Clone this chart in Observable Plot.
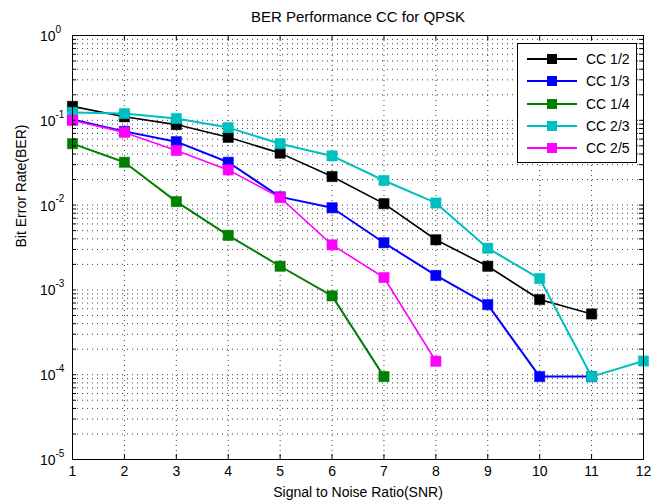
<!DOCTYPE html>
<html>
<head>
<meta charset="utf-8">
<script src="https://cdn.jsdelivr.net/npm/d3@7"></script>
<script src="https://cdn.jsdelivr.net/npm/@observablehq/plot@0.6"></script>
<style>
  html, body { margin: 0; padding: 0; background: #fff; }
  #wrap { position: relative; width: 661px; height: 502px; font-family: "Liberation Sans", Arial, sans-serif; }
  #legend { position: absolute; left: 517px; top: 43px; width: 118px; height: 118px; border: 1px solid #000; background: #fff; }
  .item { position: absolute; left: 0; height: 20px; display: flex; align-items: center; }
  .item span { font-size: 14px; margin-left: 4px; color: #000; }
</style>
</head>
<body>
<div id="wrap"></div>
<script>
const snr = [1, 2, 3, 4, 5, 6, 7, 8, 9, 10, 11, 12];
const seriesNames = ["CC 1/2", "CC 1/3", "CC 1/4", "CC 2/3", "CC 2/5"];
const seriesColors = ["#000000", "#0000ff", "#007f00", "#00bfbf", "#ff00ff"];
const cc12 = [0.146, 0.11, 0.089, 0.063, 0.041, 0.0217, 0.0104, 0.0039, 0.0019, 0.00077, 0.00052];
const cc13 = [0.102, 0.074, 0.056, 0.032, 0.0125, 0.0093, 0.0036, 0.00148, 0.00067, 0.000095, 0.000095];
const cc14 = [0.053, 0.032, 0.011, 0.0044, 0.0019, 0.00085, 0.000095];
const cc23 = [0.124, 0.12, 0.105, 0.082, 0.053, 0.038, 0.0195, 0.0106, 0.0031, 0.00136, 0.000095, 0.000145];
const cc25 = [0.1, 0.072, 0.044, 0.026, 0.0123, 0.0034, 0.0014, 0.000144];
const yDecades = [1, 1e-1, 1e-2, 1e-3, 1e-4, 1e-5];
const titleText = "BER Performance CC for QPSK";
const xLabel = "Signal to Noise Ratio(SNR)";
const yLabel = "Bit Error Rate(BER)";

const seriesValues = [cc12, cc13, cc14, cc23, cc25];
const series = seriesValues.map((vals, i) => vals.map((v, j) => ({snr: snr[j], ber: v, name: seriesNames[i]})));

const yMinor = [];
for (let k = -5; k < 0; k++) for (let m = 1; m <= 9; m++) yMinor.push(m * Math.pow(10, k));
yMinor.push(1);

const W = 661, H = 502, mL = 72, mR = 18, mT = 35, mB = 43;
const pw = W - mL - mR, ph = H - mT - mB;

const marks = [
  Plot.ruleY(yMinor.filter(v => v > 1e-5 && v < 1), {stroke: "#000", strokeOpacity: 0.75, strokeDasharray: "1,4"}),
  Plot.ruleX(snr.filter(v => v > 1 && v < 12), {stroke: "#000", strokeOpacity: 0.75, strokeDasharray: "1,4"}),
];
series.forEach((d, i) => {
  marks.push(Plot.line(d, {x: "snr", y: "ber", stroke: seriesColors[i], strokeWidth: (i === 0 || i === 4) ? 1.6 : 2}));
  marks.push(Plot.dot(d, {x: "snr", y: "ber", symbol: "square", r: 5.8, fill: seriesColors[i], stroke: seriesColors[i], strokeWidth: 0.5}));
});
marks.push(
  Plot.frame({stroke: "#000", strokeWidth: 1}),
  Plot.tickY(yMinor, {y: d => d, insetRight: pw - 4, stroke: "#000"}),
  Plot.tickY(yMinor, {y: d => d, insetLeft: pw - 4, stroke: "#000"}),
  Plot.tickX(snr, {x: d => d, insetTop: ph - 5, stroke: "#000"}),
  Plot.tickX(snr, {x: d => d, insetBottom: ph - 5, stroke: "#000"}),
  Plot.axisX(snr, {tickSize: 0, tickPadding: 7, fontSize: 14, label: null, tickFormat: d => String(d)}),
  Plot.text(yDecades, {y: d => d, frameAnchor: "left", text: () => "10", textAnchor: "end", dx: -17, dy: 1, fontSize: 14}),
  Plot.text(yDecades, {y: d => d, frameAnchor: "left", text: d => String(Math.round(Math.log10(d))), textAnchor: "start", dx: -17, dy: -6, fontSize: 10}),
  Plot.text([titleText], {frameAnchor: "top", dy: -18, fontSize: 15, lineAnchor: "middle"}),
  Plot.text([xLabel], {frameAnchor: "bottom", dy: 33, fontSize: 14, lineAnchor: "middle"}),
  Plot.text([yLabel], {frameAnchor: "left", dx: -51, rotate: -90, fontSize: 14, lineAnchor: "middle"})
);

const chart = Plot.plot({
  width: W, height: H,
  marginLeft: mL, marginRight: mR, marginTop: mT, marginBottom: mB,
  style: {fontFamily: "'Liberation Sans', Arial, sans-serif", color: "#000", background: "#fff"},
  x: {domain: [1, 12], axis: null},
  y: {type: "log", domain: [1e-5, 1], axis: null},
  marks
});
const wrap = document.getElementById("wrap");
wrap.appendChild(chart);

const legend = document.createElement("div");
legend.id = "legend";
seriesNames.forEach((name, i) => {
  const item = document.createElement("div");
  item.className = "item";
  item.style.top = (5 + i * 22.3) + "px";
  item.innerHTML = `<svg width="64" height="20"><line x1="9" x2="59" y1="10" y2="10" stroke="${seriesColors[i]}" stroke-width="2"/><rect x="29" y="5" width="10" height="10" fill="${seriesColors[i]}"/></svg><span>${name}</span>`;
  legend.appendChild(item);
});
wrap.appendChild(legend);
</script>
</body>
</html>
